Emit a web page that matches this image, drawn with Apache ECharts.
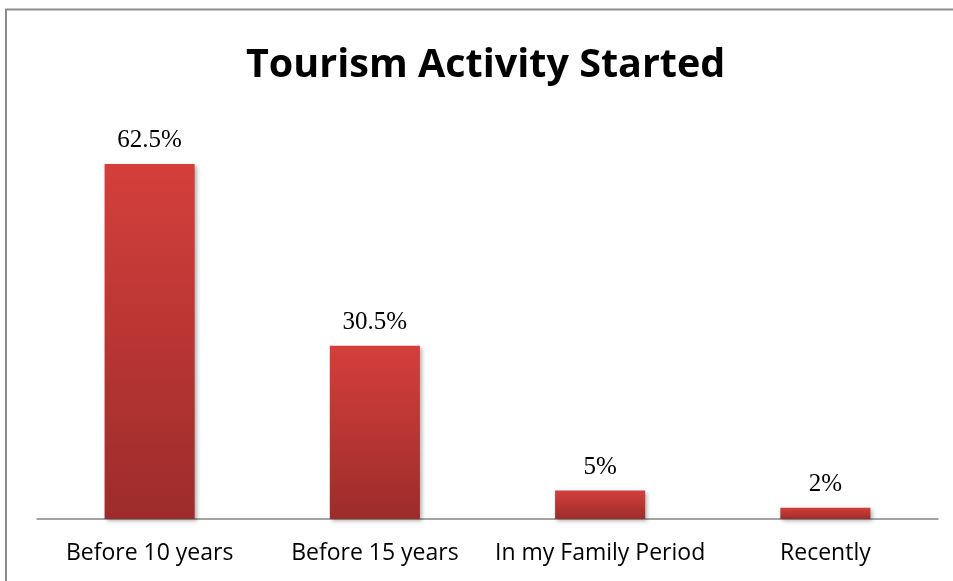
<!DOCTYPE html>
<html>
<head>
<meta charset="utf-8">
<script src="https://cdn.jsdelivr.net/npm/echarts@6/dist/echarts.min.js"></script>
<style>
html,body{margin:0;padding:0;background:#fff;}
#chart{width:953px;height:581px;}
</style>
</head>
<body>
<div id="chart"></div>
<script>
const titleText = 'Tourism Activity Started';
const categories = ['Before 10 years', 'Before 15 years', 'In my Family Period', 'Recently'];
const values = [62.5, 30.5, 5, 2];
const valueLabels = ['62.5%', '30.5%', '5%', '2%'];

const chart = echarts.init(document.getElementById('chart'));
chart.setOption({
  animation: false,
  backgroundColor: '#ffffff',
  title: {
    text: titleText,
    left: 241,
    top: 41,
    textStyle: { fontFamily: 'Open Sans', fontWeight: 'bold', fontSize: 39.5, color: '#000' }
  },
  graphic: [{
    type: 'rect',
    shape: { x: 6, y: 9.5, width: 960, height: 600 },
    style: { fill: 'none', stroke: '#8c8c8c', lineWidth: 2 },
    silent: true
  }],
  grid: { left: 37, right: 15, top: 121.4, bottom: 62 },
  xAxis: {
    type: 'category',
    data: categories,
    axisLine: { lineStyle: { color: '#878787', width: 1.5 } },
    axisTick: { show: false },
    axisLabel: { interval: 0, fontFamily: 'Open Sans', fontSize: 23, color: '#000', margin: 23 }
  },
  yAxis: {
    type: 'value',
    min: 0, max: 70,
    show: false,
    splitLine: { show: false }
  },
  series: [{
    type: 'bar',
    data: values,
    barWidth: '40%',
    itemStyle: {
      color: new echarts.graphic.LinearGradient(0, 0, 0, 1, [
        { offset: 0, color: '#d43f3b' },
        { offset: 1, color: '#9c2c2b' }
      ]),
      shadowColor: 'rgba(0,0,0,0.3)',
      shadowBlur: 4,
      shadowOffsetX: 2,
      shadowOffsetY: 2
    },
    label: {
      show: true,
      position: 'top',
      distance: 11,
      formatter: p => valueLabels[p.dataIndex],
      fontFamily: 'Liberation Serif',
      fontSize: 25,
      color: '#000'
    }
  }]
});
</script>
</body>
</html>
